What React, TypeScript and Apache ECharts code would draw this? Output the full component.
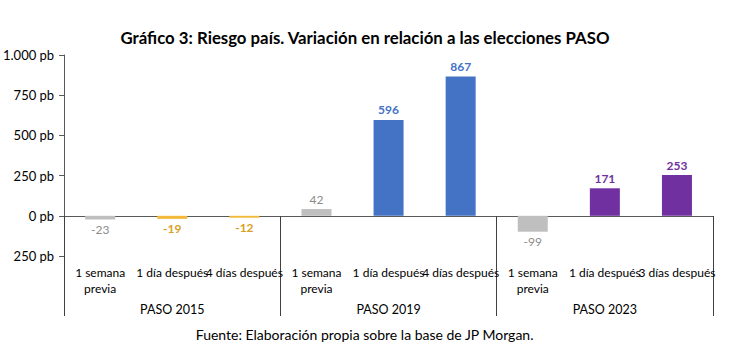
import React, { useEffect, useRef } from "react";
import * as echarts from "echarts";

const categories = [
  "1 semana\nprevia", "1 día después", "4 días después",
  "1 semana\nprevia", "1 día después", "4 días después",
  "1 semana\nprevia", "1 día después", "3 días después",
];
const values = [-23, -19, -12, 42, 596, 867, -99, 171, 253];
const groups = ["PASO 2015", "PASO 2019", "PASO 2023"];
const yTicks = [-250, 0, 250, 500, 750, 1000];

const GREY = "#BFBFBF";
const GREY_LABEL = "#8C8C8C";
const groupColors = ["#F2B93B", "#4472C4", "#7030A0"];
const groupLabelColors = ["#D9A024", "#4472C4", "#7030A0"];
const FONT = "Lato, 'Open Sans', sans-serif";

function fmtPb(v: number): string {
  const a = Math.abs(v);
  const s = a >= 1000 ? Math.floor(a / 1000) + "." + String(a % 1000).padStart(3, "0") : String(a);
  return s + " pb";
}

export default function App() {
  const ref = useRef<HTMLDivElement>(null);
  useEffect(() => {
    document.body.style.margin = "0";
    if (!ref.current) return;
    const chart = echarts.init(ref.current, null, { renderer: "svg" });
    const data = values.map((v, i) => {
      const g = Math.floor(i / 3);
      const isPre = i % 3 === 0;
      return {
        value: v,
        itemStyle: { color: isPre ? GREY : groupColors[g] },
        label: {
          show: true,
          position: v < 0 ? "bottom" : "top",
          distance: 4,
          color: isPre ? GREY_LABEL : groupLabelColors[g],
          fontWeight: isPre ? "normal" : "bold",
          fontSize: 12,
          fontFamily: FONT,
        },
      };
    });
    chart.setOption({
      animation: false,
      textStyle: { fontFamily: FONT },
      title: {
        text: "Gráfico 3: Riesgo país. Variación en relación a las elecciones PASO",
        left: "center",
        top: 24,
        textStyle: { fontSize: 16.8, fontWeight: "bold", color: "#000", fontFamily: FONT },
      },
      grid: { left: 60, right: 17, top: 55, bottom: 100, containLabel: false },
      xAxis: [
        {
          type: "category",
          data: categories,
          position: "bottom",
          axisLine: { onZero: true, lineStyle: { color: "#595959", width: 1 } },
          axisTick: { show: false },
          axisLabel: {
            interval: 0,
            margin: 8,
            color: "#000",
            fontSize: 12,
            lineHeight: 16,
            fontFamily: FONT,
            hideOverlap: false,
          },
        },
        {
          type: "category",
          data: groups,
          position: "bottom",
          offset: 60,
          axisLine: { show: false, onZero: false },
          axisTick: { show: true, inside: true, length: 100, lineStyle: { color: "#404040", width: 1 } },
          axisLabel: { inside: true, margin: 0, color: "#000", fontSize: 12.5, fontFamily: FONT, interval: 0 },
        },
      ],
      yAxis: {
        type: "value",
        min: -250,
        max: 1000,
        interval: 250,
        splitLine: { show: false },
        axisLine: { show: true, lineStyle: { color: "#595959" } },
        axisTick: { show: true, length: 5, lineStyle: { color: "#595959" } },
        axisLabel: {
          margin: 10,
          color: "#000",
          fontSize: 13,
          fontFamily: FONT,
          formatter: (v: number) => (yTicks.includes(v) ? fmtPb(v) : ""),
        },
      },
      series: [
        {
          type: "bar",
          data,
          barWidth: 30,
          xAxisIndex: 0,
        },
      ],
      graphic: [
        {
          type: "text",
          left: "center",
          top: 327,
          style: {
            text: "Fuente: Elaboración propia sobre la base de JP Morgan.",
            fontSize: 14,
            fill: "#000",
            fontFamily: FONT,
          },
        },
      ],
    });
    return () => chart.dispose();
  }, []);
  return <div ref={ref} style={{ width: 730, height: 356 }} />;
}
